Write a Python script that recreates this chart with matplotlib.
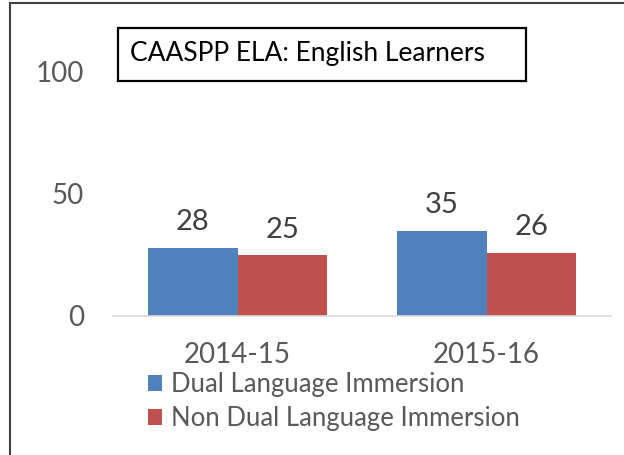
import matplotlib.pyplot as plt
import numpy as np
from matplotlib.patches import Rectangle
from matplotlib.lines import Line2D

# === Data ===
years = ['2014-15', '2015-16']
dual = [28, 35]
non_dual = [25, 26]
series_names = ['Dual Language Immersion', 'Non Dual Language Immersion']
colors = ['#4f81bd', '#c0504d']
yticks = [0, 50, 100]

plt.rcParams['font.family'] = ['Lato', 'DejaVu Sans']
gray = '#595959'

fig = plt.figure(figsize=(6.24, 4.55), dpi=100)
W, H = 624, 455
ax = fig.add_axes([113 / W, 1 - 316 / H, 498 / W, 244 / H])

x = np.arange(len(years))
w = 0.3614
b1 = ax.bar(x - w / 2, dual, w, color=colors[0], label=series_names[0])
b2 = ax.bar(x + w / 2, non_dual, w, color=colors[1], label=series_names[1])

for bars in (b1, b2):
    for rect in bars:
        ax.annotate(f'{rect.get_height():g}',
                    (rect.get_x() + rect.get_width() / 2, rect.get_height()),
                    xytext=(0, 9), textcoords='offset points',
                    ha='center', va='bottom', fontsize=21, color='#404040')

ax.set_xlim(-0.5, 1.5)
ax.set_ylim(0, 100)
ax.set_yticks(yticks)
ax.set_xticks(x)
ax.set_xticklabels(years)
ax.tick_params(axis='both', length=0, labelsize=20, labelcolor=gray)
ax.tick_params(axis='y', pad=21)
ax.tick_params(axis='x', pad=19)
for s in ['top', 'right', 'left']:
    ax.spines[s].set_visible(False)
ax.spines['bottom'].set_color('#d9d9d9')
ax.spines['bottom'].set_linewidth(1.2)
ax.patch.set_alpha(0)

# title box
fig.patches.append(Rectangle((118 / W, 1 - 81 / H), 408 / W, 53 / H,
                             transform=fig.transFigure, fill=False,
                             edgecolor='black', linewidth=1.6))
fig.text(130 / W, 1 - 54 / H, 'CAASPP ELA: English Learners',
         fontsize=19, color='black', va='center', ha='left')

# legend
ax.legend(loc='upper left', bbox_to_anchor=(148 / W, 1 - 372 / H),
          bbox_transform=fig.transFigure, frameon=False, fontsize=18.5,
          labelcolor=gray, handlelength=0.55, handleheight=0.55,
          handletextpad=0.35, labelspacing=0.35, borderpad=0, borderaxespad=0)

# outer border
fig.add_artist(Line2D([10 / W, 10 / W], [0, 1 - 3 / H], transform=fig.transFigure,
                      color='#404040', linewidth=1.5))
fig.add_artist(Line2D([10 / W, 1], [1 - 3 / H, 1 - 3 / H], transform=fig.transFigure,
                      color='#404040', linewidth=1.5))

fig.savefig('out.png', dpi=100)
